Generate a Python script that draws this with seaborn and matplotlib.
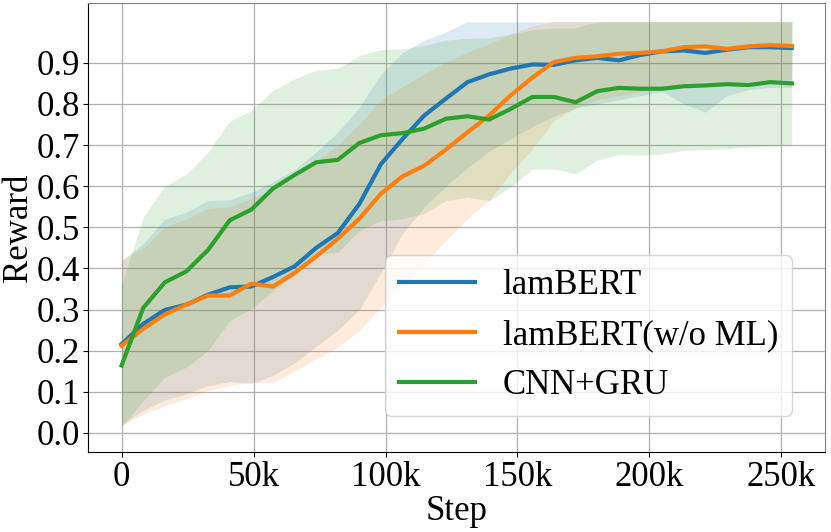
import numpy as np
import pandas as pd
import matplotlib
matplotlib.use("Agg")
import matplotlib.pyplot as plt
import seaborn as sns

# ---- data ----
steps = [i * 8192 for i in range(32)]

lambert_mean = [0.216, 0.265, 0.299, 0.312, 0.336, 0.354, 0.356, 0.379, 0.405, 0.450,
                0.486, 0.557, 0.654, 0.715, 0.772, 0.813, 0.853, 0.872, 0.886, 0.896,
                0.895, 0.906, 0.912, 0.906, 0.919, 0.928, 0.930, 0.924, 0.932, 0.938,
                0.938, 0.936]
lambert_upper = [0.42, 0.46, 0.52, 0.537, 0.565, 0.567, 0.585, 0.61, 0.64, 0.683,
                 0.731, 0.792, 0.873, 0.925, 0.955, 0.975, 1.0, 1.0, 1.0, 1.0,
                 1.0, 1.0, 1.0, 1.0, 1.0, 1.0, 1.0, 1.0, 1.0, 1.0,
                 1.0, 1.0]
lambert_lower = [0.02, 0.055, 0.08, 0.095, 0.115, 0.125, 0.12, 0.14, 0.17, 0.21,
                 0.25, 0.30, 0.39, 0.485, 0.55, 0.60, 0.645, 0.685, 0.715, 0.745,
                 0.77, 0.79, 0.80, 0.81, 0.82, 0.83, 0.80, 0.78, 0.82, 0.835,
                 0.84, 0.84]

noml_mean = [0.212, 0.253, 0.288, 0.312, 0.334, 0.334, 0.363, 0.356, 0.389, 0.429,
             0.472, 0.521, 0.582, 0.624, 0.650, 0.689, 0.731, 0.772, 0.821, 0.864,
             0.902, 0.912, 0.916, 0.922, 0.924, 0.928, 0.938, 0.940, 0.934, 0.940,
             0.943, 0.941]
noml_upper = [0.42, 0.45, 0.50, 0.52, 0.545, 0.55, 0.57, 0.59, 0.62, 0.66,
              0.70, 0.75, 0.81, 0.842, 0.873, 0.902, 0.926, 0.946, 0.97, 0.99,
              1.0, 1.0, 1.0, 1.0, 1.0, 1.0, 1.0, 1.0, 1.0, 1.0,
              1.0, 1.0]
noml_lower = [0.018, 0.046, 0.066, 0.083, 0.103, 0.115, 0.123, 0.123, 0.15, 0.18,
              0.208, 0.249, 0.306, 0.354, 0.411, 0.468, 0.521, 0.565, 0.633, 0.69,
              0.76, 0.79, 0.81, 0.82, 0.83, 0.84, 0.85, 0.855, 0.85, 0.855,
              0.86, 0.86]

cnn_mean = [0.164, 0.304, 0.366, 0.393, 0.445, 0.517, 0.543, 0.594, 0.627, 0.658,
            0.664, 0.705, 0.724, 0.729, 0.740, 0.764, 0.770, 0.762, 0.788, 0.817,
            0.817, 0.804, 0.831, 0.839, 0.837, 0.837, 0.843, 0.845, 0.848, 0.846,
            0.853, 0.850]
cnn_upper = [0.36, 0.525, 0.60, 0.63, 0.683, 0.758, 0.784, 0.833, 0.861, 0.882,
             0.887, 0.918, 0.932, 0.934, 0.942, 0.955, 0.96, 0.96, 0.97, 0.98,
             0.985, 0.985, 1.0, 1.0, 1.0, 1.0, 1.0, 1.0, 1.0, 1.0,
             1.0, 1.0]
cnn_lower = [0.014, 0.079, 0.135, 0.160, 0.200, 0.273, 0.302, 0.346, 0.383, 0.435,
             0.439, 0.492, 0.516, 0.521, 0.533, 0.565, 0.573, 0.565, 0.598, 0.642,
             0.642, 0.630, 0.663, 0.677, 0.675, 0.679, 0.687, 0.689, 0.691, 0.695,
             0.697, 0.699]

series_names = ["lamBERT", "lamBERT(w/o ML)", "CNN+GRU"]
x_ticks = [0, 50000, 100000, 150000, 200000, 250000]
x_tick_labels = ["0", "50k", "100k", "150k", "200k", "250k"]
y_ticks = [0.0, 0.1, 0.2, 0.3, 0.4, 0.5, 0.6, 0.7, 0.8, 0.9]

# ---- figure ----
plt.rcParams["font.family"] = ["Liberation Serif", "DejaVu Serif"]
plt.rcParams["font.size"] = 25

fig, ax = plt.subplots(figsize=(8.31, 5.32), dpi=100)
fig.subplots_adjust(left=0.106, right=0.993, bottom=0.150, top=0.994)

colors = sns.color_palette("tab10", 3)
means = [lambert_mean, noml_mean, cnn_mean]
uppers = [lambert_upper, noml_upper, cnn_upper]
lowers = [lambert_lower, noml_lower, cnn_lower]

frames = []
for name, m in zip(series_names, means):
    frames.append(pd.DataFrame({"Step": steps, "Reward": m, "model": name}))
df = pd.concat(frames, ignore_index=True)

for c, lo, up in zip(colors, lowers, uppers):
    ax.fill_between(steps, lo, up, color=c, alpha=0.15, linewidth=0)

sns.lineplot(data=df, x="Step", y="Reward", hue="model", hue_order=series_names,
             palette=colors, linewidth=3, ax=ax, legend=True)

ax.set_xticks(x_ticks)
ax.set_xticklabels(x_tick_labels)
ax.set_yticks(y_ticks)
ax.set_yticklabels([f"{v:.1f}" for v in y_ticks])
ax.set_xlim(-12700, 266600)
ax.set_ylim(-0.047, 1.045)
ax.grid(True, color="#b0b0b0", linewidth=0.9)
ax.set_axisbelow(True)
ax.tick_params(axis="both", labelsize=25, direction="out", length=3.5, pad=2.5)
ax.set_xlabel("Step", fontsize=25, labelpad=1)
ax.set_ylabel("Reward", fontsize=25, labelpad=1)
for s in ["top", "right"]:
    ax.spines[s].set_color("#808080")

leg = ax.legend(loc="lower right", bbox_to_anchor=(0.955, 0.080), borderaxespad=0,
                fontsize=25, handlelength=2.2, handletextpad=0.8, frameon=True)
for line in leg.get_lines():
    line.set_linewidth(3)

fig.savefig("out.png", dpi=100)
